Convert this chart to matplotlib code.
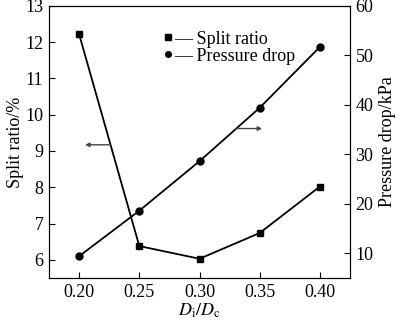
import matplotlib
matplotlib.use("Agg")
import matplotlib.pyplot as plt
from matplotlib.lines import Line2D

plt.rcParams['font.family'] = ['Liberation Serif', 'DejaVu Serif']
plt.rcParams['mathtext.fontset'] = 'stix'

# data
ratio = [0.20, 0.25, 0.30, 0.35, 0.40]
split_ratio = [12.22, 6.38, 6.03, 6.74, 8.02]
pressure_drop = [9.4, 18.6, 28.6, 39.4, 51.7]

fig = plt.figure(figsize=(4.0, 3.24), dpi=100)
ax = fig.add_axes([0.1225, 0.142, 0.7525, 0.84])
ax2 = ax.twinx()

ax.plot(ratio, split_ratio, color='black', lw=1.3, marker='s', ms=5)
ax2.plot(ratio, pressure_drop, color='black', lw=1.3, marker='o', ms=5)

ax.set_xlim(0.175, 0.425)
ax.set_ylim(5.5, 13)
ax2.set_ylim(5, 60)
ax.set_xticks(ratio)
ax.set_xticklabels([f"{v:.2f}" for v in ratio])
ax.set_yticks(range(6, 14))
ax2.set_yticks(range(10, 70, 10))

for a in (ax, ax2):
    a.tick_params(direction='in', labelsize=13, length=4, width=0.8, pad=4)
    for s in a.spines.values():
        s.set_linewidth(0.8)

ax.set_xlabel(r'$D_{\rm i}/D_{\rm c}$', fontsize=13, labelpad=1)
ax.set_ylabel('Split ratio/%', fontsize=13, labelpad=1)
ax2.set_ylabel('Pressure drop/kPa', fontsize=13, labelpad=4)

# arrows pointing to the axis each curve belongs to
ax.annotate('', xy=(0.205, 9.17), xytext=(0.226, 9.17),
            arrowprops=dict(arrowstyle='-|>', color='#444444', lw=1.0,
                            mutation_scale=6, shrinkA=0, shrinkB=0))
ax2.annotate('', xy=(0.352, 35.2), xytext=(0.330, 35.2),
             arrowprops=dict(arrowstyle='-|>', color='#444444', lw=1.0,
                             mutation_scale=6, shrinkA=0, shrinkB=0))

handles = [Line2D([], [], color='black', marker='s', ms=4, lw=0),
           Line2D([], [], color='black', marker='o', ms=4, lw=0)]
ax.legend(handles, ['\u2014 Split ratio', '\u2014 Pressure drop'],
          loc='upper left', bbox_to_anchor=(0.34, 0.955), frameon=False,
          fontsize=13, handlelength=0.5, handletextpad=0.05,
          labelspacing=0.0, borderpad=0.2)

fig.savefig('out.png', dpi=100)
